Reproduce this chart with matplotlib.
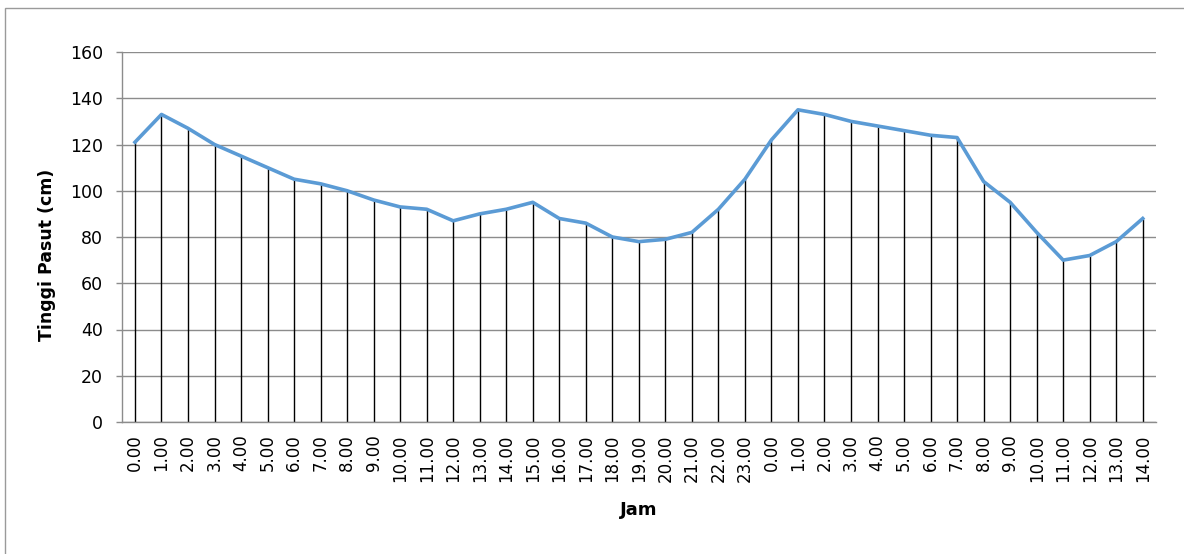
import matplotlib
matplotlib.use("Agg")
import matplotlib.pyplot as plt
from matplotlib.patches import Rectangle

# Hourly tide heights
jam = ["0.00", "1.00", "2.00", "3.00", "4.00", "5.00", "6.00", "7.00", "8.00",
       "9.00", "10.00", "11.00", "12.00", "13.00", "14.00", "15.00", "16.00",
       "17.00", "18.00", "19.00", "20.00", "21.00", "22.00", "23.00",
       "0.00", "1.00", "2.00", "3.00", "4.00", "5.00", "6.00", "7.00", "8.00",
       "9.00", "10.00", "11.00", "12.00", "13.00", "14.00"]
tinggi = [121, 133, 127, 120, 115, 110, 105, 103, 100, 96, 93, 92, 87, 90, 92,
          95, 88, 86, 80, 78, 79, 82, 92, 105, 122, 135, 133, 130, 128, 126,
          124, 123, 104, 95, 82, 70, 72, 78, 88]
y_ticks = [0, 20, 40, 60, 80, 100, 120, 140, 160]

plt.rcParams["font.family"] = ["DejaVu Sans"]

fig = plt.figure(figsize=(11.84, 5.54), dpi=100)
W, H = 1184, 554

# outer chart frame
fig.patches.append(Rectangle((5 / W, -0.05), 1.2, (554 - 8) / H + 0.05,
                             transform=fig.transFigure, fill=False,
                             edgecolor="#9a9a9a", linewidth=1.0))

ax = fig.add_axes([121.7 / W, 1 - 422 / H, (1156 - 121.7) / W, (422 - 52) / H])

x = list(range(len(tinggi)))
ax.vlines(x, 0, tinggi, colors="black", linewidth=1.0, zorder=2)
ax.plot(x, tinggi, color="#5B9BD5", linewidth=2.6, zorder=3,
        solid_joinstyle="round")

ax.set_xlim(-0.5, len(tinggi) - 0.5)
ax.set_ylim(0, 160)
ax.set_yticks(y_ticks)
ax.set_yticklabels([str(v) for v in y_ticks])
ax.set_xticks(x)
ax.set_xticklabels(jam, rotation=90, va="top", ha="center")

ax.grid(axis="y", color="#8c8c8c", linewidth=1.0, zorder=1)
ax.set_axisbelow(True)

for s in ["top", "right"]:
    ax.spines[s].set_visible(False)
for s in ["left", "bottom"]:
    ax.spines[s].set_color("#8c8c8c")
    ax.spines[s].set_linewidth(1.0)

ax.tick_params(axis="y", length=4.5, width=1.0, color="#8c8c8c", pad=9,
               labelsize=12.5)
ax.tick_params(axis="x", length=0, pad=9, labelsize=12)

# axis titles placed in figure pixels
fig.text(47 / W, 1 - 255 / H, "Tinggi Pasut (cm)", rotation=90,
         fontsize=12.5, fontweight="bold", ha="center", va="center")
fig.text(639 / W, 1 - 510 / H, "Jam", fontsize=13, fontweight="bold",
         ha="center", va="center")

fig.savefig("out.png", dpi=100)
